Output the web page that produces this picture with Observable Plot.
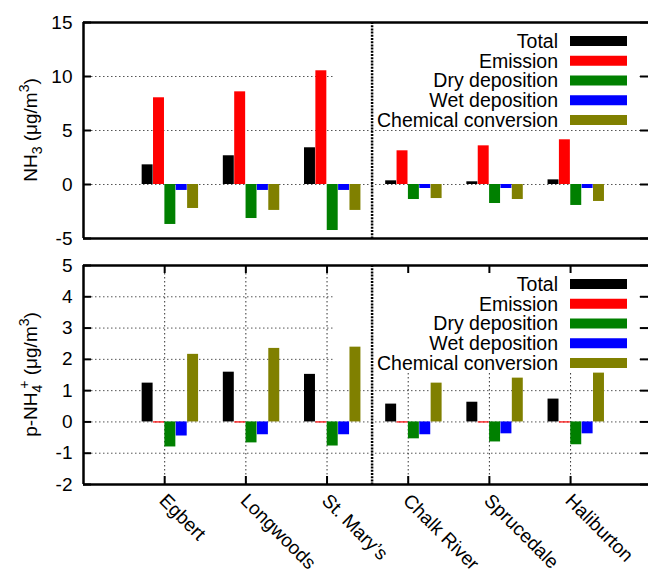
<!DOCTYPE html>
<html>
<head>
<meta charset="utf-8">
<script src="https://cdn.jsdelivr.net/npm/d3@7"></script>
<script src="https://cdn.jsdelivr.net/npm/@observablehq/plot@0.6"></script>
<style>
  html, body { margin: 0; padding: 0; background: #fff; overflow: hidden; }
  #chart svg { display: block; }
</style>
</head>
<body>
<div id="chart"></div>
<script>
// ---------------- data ----------------
const sites = ["Egbert", "Longwoods", "St. Mary\u2019s", "Chalk River", "Sprucedale", "Haliburton"];
const series = ["Total", "Emission", "Dry deposition", "Wet deposition", "Chemical conversion"];
const colors = ["#000000", "#ff0000", "#008000", "#0000ff", "#808000"];

// NH3 budget terms (ug/m3)
const nh3Total    = [1.82, 2.66, 3.40, 0.34, 0.25, 0.43];
const nh3Emission = [8.03, 8.58, 10.53, 3.12, 3.58, 4.14];
const nh3Dry      = [-3.70, -3.15, -4.26, -1.39, -1.76, -1.94];
const nh3Wet      = [-0.55, -0.55, -0.55, -0.37, -0.37, -0.37];
const nh3Chem     = [-2.22, -2.40, -2.40, -1.30, -1.39, -1.57];

// p-NH4+ budget terms (ug/m3)
const nh4Total    = [1.24, 1.59, 1.52, 0.57, 0.63, 0.73];
const nh4Emission = [0, 0, 0, 0, 0, 0];
const nh4Dry      = [-0.80, -0.67, -0.77, -0.54, -0.64, -0.73];
const nh4Wet      = [-0.45, -0.41, -0.41, -0.41, -0.38, -0.38];
const nh4Chem     = [2.16, 2.35, 2.39, 1.24, 1.40, 1.56];

const nh3Ticks = [-5, 0, 5, 10, 15];
const nh3Grid  = [0, 5, 10];
const nh4Ticks = [-2, -1, 0, 1, 2, 3, 4, 5];
const nh4Grid  = [-1, 0, 1, 2, 3, 4];

// ---------------- layout ----------------
const W = 648, ML = 83;
const xDomain = [-1, 5.96];
const ppuX = (W - ML) / (xDomain[1] - xDomain[0]);
const offsets = [-0.21, -0.07, 0.07, 0.21, 0.35];
const bw = 0.135;
const separatorX = 2.555;
const FONT = "'Liberation Sans', Arial, Helvetica, sans-serif";

function buildBars(valuesBySeries) {
  const rows = [];
  valuesBySeries.forEach((vals, j) => vals.forEach((v, i) => rows.push({site: i, j, v})));
  return rows;
}

function panel({values, yDomain, yTicks, yGrid, height, marginTop, marginBottom, bottom, labelParts}) {
  const plotH = height - marginTop - marginBottom;
  const ppuY = plotH / (yDomain[1] - yDomain[0]);
  const [x0, x1] = xDomain, [y0, y1] = yDomain;
  const bars = buildBars(values);
  const tlx = 8 / ppuX, tly = 8 / ppuY;
  const idx = sites.map((d, i) => i);
  const marks = [];
  marks.push(Plot.ruleY(yGrid, {y: d => d, stroke: "#555", strokeWidth: 1, strokeDasharray: "1.5,2.5"}));
  if (bottom) marks.push(Plot.ruleX(idx, {x: d => d, stroke: "#333", strokeWidth: 1, strokeDasharray: "1.5,2.5"}));
  // legend background
  marks.push(Plot.frame({fill: "white", stroke: "none", insetLeft: 251, insetRight: 9, insetTop: 3, insetBottom: plotH - 106}));
  // separator
  marks.push(Plot.ruleX([separatorX], {x: d => d, stroke: "#000", strokeWidth: 2.5, strokeDasharray: "2,1.2"}));
  // bars
  marks.push(Plot.rect(bars, {
    x1: d => d.site + offsets[d.j] - bw / 2,
    x2: d => d.site + offsets[d.j] + bw / 2,
    y1: () => 0, y2: d => d.v,
    fill: d => colors[d.j]
  }));
  marks.push(Plot.ruleY(bars.filter(d => d.v === 0), {
    y: () => 0,
    x1: d => d.site + offsets[d.j] - bw / 2,
    x2: d => d.site + offsets[d.j] + bw / 2,
    stroke: d => colors[d.j], strokeWidth: 1.2
  }));
  // borders
  marks.push(Plot.ruleX([x0], {x: d => d, stroke: "#000", strokeWidth: 2.5}));
  marks.push(Plot.ruleY([y0, y1], {y: d => d, stroke: "#000", strokeWidth: 2.5}));
  // y ticks (inward, mirrored)
  marks.push(Plot.ruleY(yTicks, {y: d => d, x1: () => x0, x2: () => x0 + tlx, stroke: "#000", strokeWidth: 2}));
  marks.push(Plot.ruleY(yTicks, {y: d => d, x1: () => x1 - tlx, x2: () => x1, stroke: "#000", strokeWidth: 2}));
  marks.push(Plot.text(yTicks, {x: () => x0, y: d => d, dx: -11, textAnchor: "end", fontSize: 19, text: d => String(d), fill: "#000"}));
  if (bottom) {
    marks.push(Plot.ruleX(idx, {x: d => d, y1: () => y0, y2: () => y0 + tly, stroke: "#000", strokeWidth: 2}));
    marks.push(Plot.ruleX(idx, {x: d => d, y1: () => y1 - tly, y2: () => y1, stroke: "#000", strokeWidth: 2}));
    marks.push(Plot.text(sites, {x: (d, i) => i, y: () => y0, dx: -2, dy: 13, rotate: 45, textAnchor: "start", lineAnchor: "middle", fontSize: 19, fill: "#000"}));
  }
  const plot = Plot.plot({
    width: W, height, marginLeft: ML, marginRight: 0, marginTop, marginBottom,
    x: {domain: xDomain, axis: null},
    y: {domain: yDomain, axis: null},
    style: {fontFamily: FONT, fontSize: "19px", color: "#000", background: "white"},
    marks
  });
  const svgEl = plot.tagName.toLowerCase() === "svg" ? plot : plot.querySelector("svg");
  const svg = d3.select(svgEl);
  // legend
  const g = svg.append("g").attr("font-family", FONT).attr("font-size", 19.5);
  series.forEach((s, k) => {
    const cy = marginTop + 19 + k * 19.75;
    g.append("text").attr("x", 558).attr("y", cy).attr("dy", "0.35em").attr("text-anchor", "end").attr("fill", "#000").text(s);
    g.append("rect").attr("x", 570).attr("y", cy - 5).attr("width", 57).attr("height", 10).attr("fill", colors[k]);
  });
  // y label with sub/superscripts
  const t = svg.append("text")
    .attr("transform", `translate(37,${marginTop + plotH / 2}) rotate(-90)`)
    .attr("text-anchor", "middle").attr("font-family", FONT).attr("font-size", 19).attr("fill", "#000");
  labelParts.forEach(p => {
    const ts = t.append("tspan").text(p.text).attr("font-size", p.size || 19);
    if (p.dy) ts.attr("dy", p.dy);
    if (p.dx) ts.attr("dx", p.dx);
  });
  return plot;
}

const topPanel = panel({
  values: [nh3Total, nh3Emission, nh3Dry, nh3Wet, nh3Chem],
  yDomain: [-5, 15], yTicks: nh3Ticks, yGrid: nh3Grid,
  height: 250, marginTop: 22, marginBottom: 12, bottom: false,
  labelParts: [{text: "NH"}, {text: "3", dy: 5, size: 14}, {text: " (\u03bcg/m", dy: -5}, {text: "3", dy: -8, size: 14}, {text: ")", dy: 8}]
});
const bottomPanel = panel({
  values: [nh4Total, nh4Emission, nh4Dry, nh4Wet, nh4Chem],
  yDomain: [-2, 5], yTicks: nh4Ticks, yGrid: nh4Grid,
  height: 323, marginTop: 15, marginBottom: 89, bottom: true,
  labelParts: [{text: "p-NH"}, {text: "4", dy: 5, size: 14}, {text: "+", dy: -13, dx: -4, size: 14}, {text: " (\u03bcg/m", dy: 8}, {text: "3", dy: -8, size: 14}, {text: ")", dy: 8}]
});
const chart = document.getElementById("chart");
chart.appendChild(topPanel);
chart.appendChild(bottomPanel);
</script>
</body>
</html>
